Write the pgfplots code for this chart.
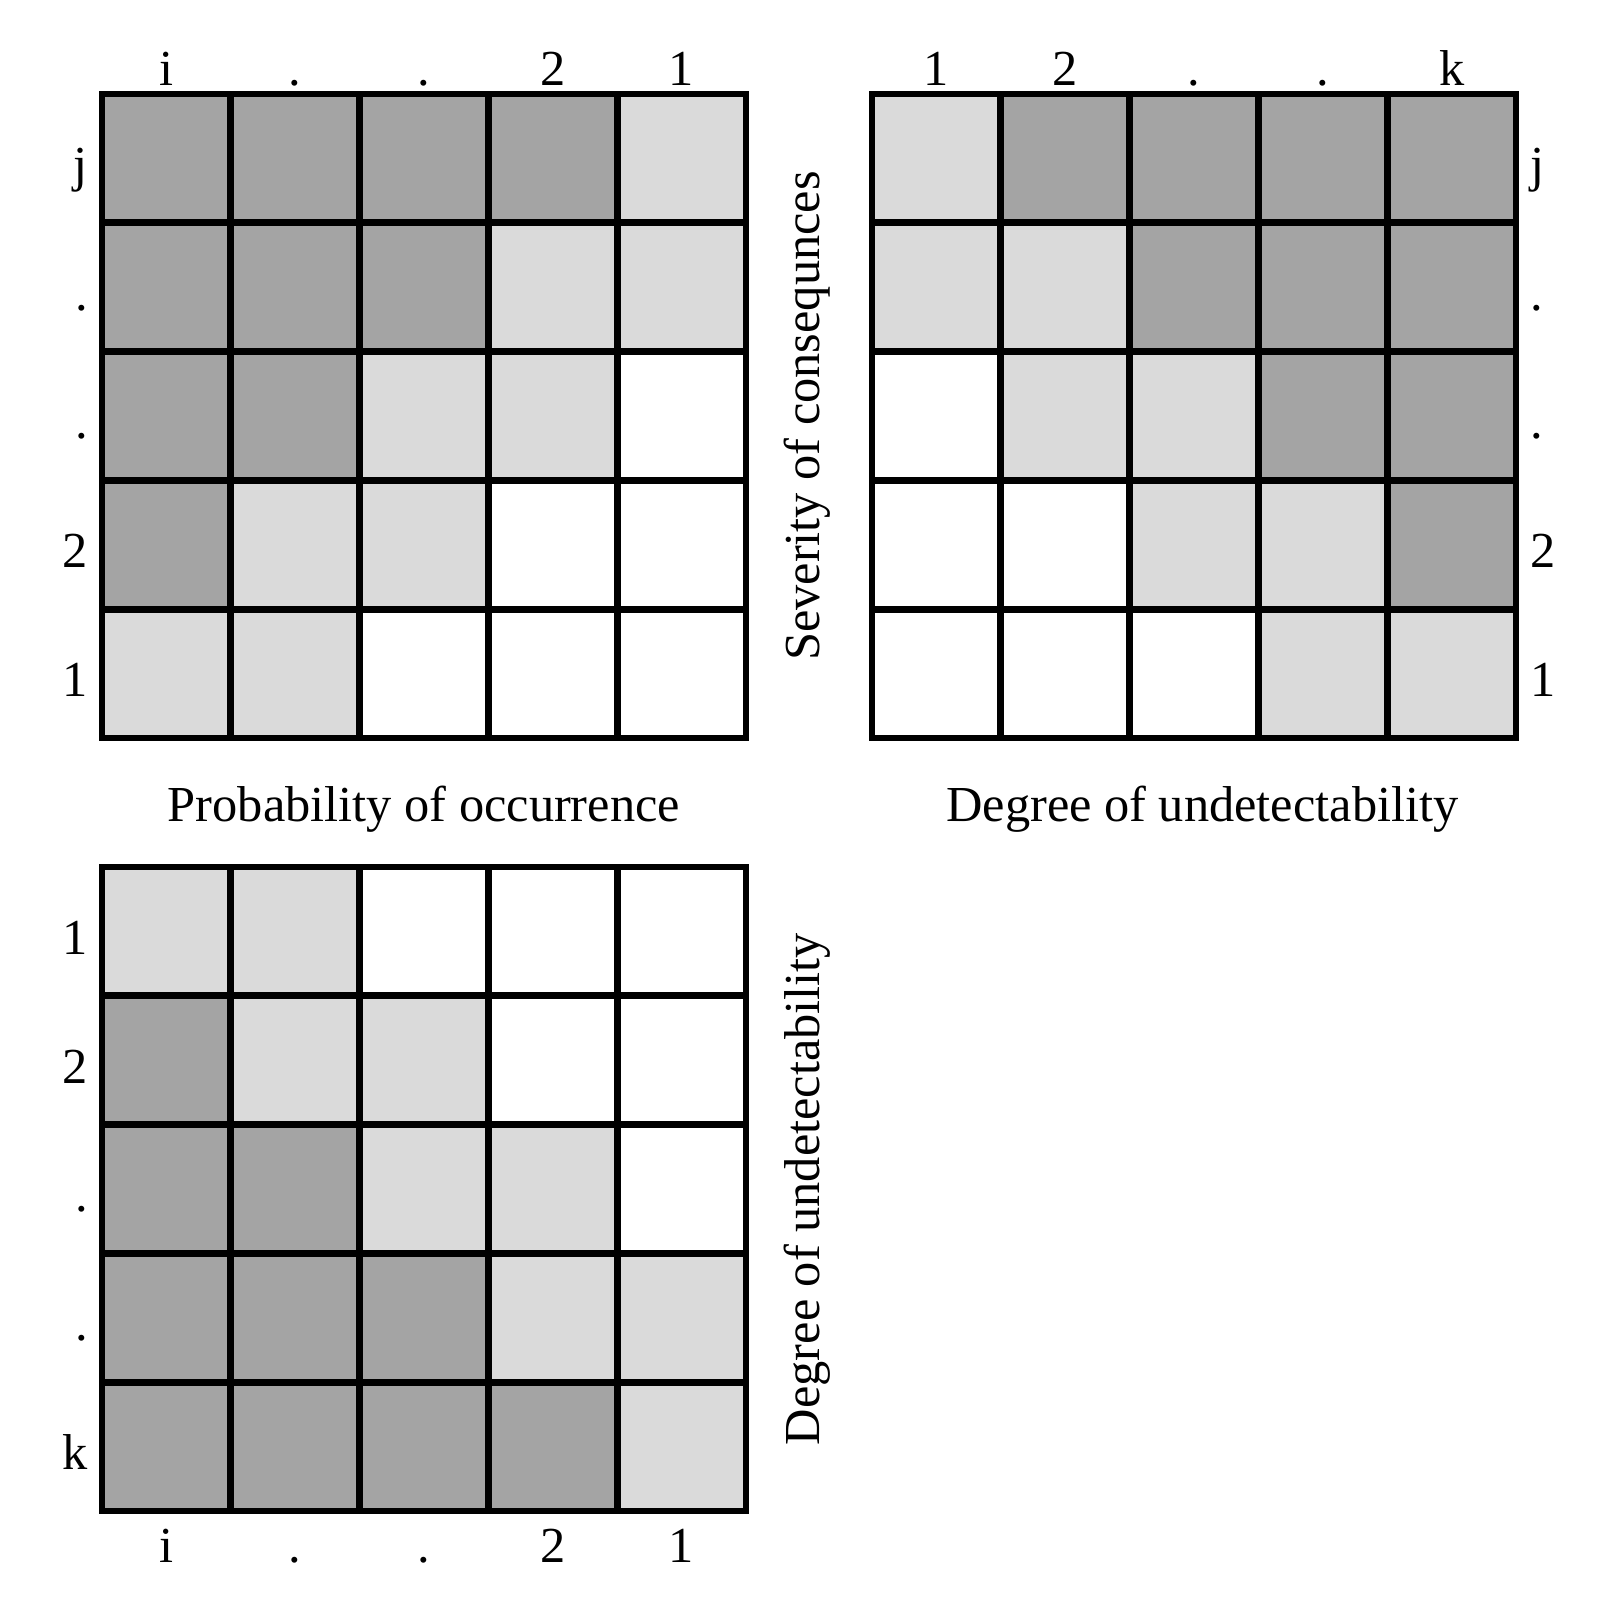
\documentclass[border=0pt]{standalone}
\usepackage{fontspec}
\setmainfont{Liberation Serif}
\usepackage{pgfplots}
\usepackage{pgfplotstable}
\pgfplotsset{compat=1.18}
\definecolor{cellDark}{HTML}{A4A4A4}
\definecolor{cellLight}{HTML}{DADADA}

% 0 = white, 1 = light grey, 2 = dark grey; rows from the bottom (y=1) up
\pgfplotstableread{
x y c
1 1 1
2 1 1
3 1 0
4 1 0
5 1 0
1 2 2
2 2 1
3 2 1
4 2 0
5 2 0
1 3 2
2 3 2
3 3 1
4 3 1
5 3 0
1 4 2
2 4 2
3 4 2
4 4 1
5 4 1
1 5 2
2 5 2
3 5 2
4 5 2
5 5 1
}\occsev

\pgfplotstableread{
x y c
1 1 0
2 1 0
3 1 0
4 1 1
5 1 1
1 2 0
2 2 0
3 2 1
4 2 1
5 2 2
1 3 0
2 3 1
3 3 1
4 3 2
5 3 2
1 4 1
2 4 1
3 4 2
4 4 2
5 4 2
1 5 1
2 5 2
3 5 2
4 5 2
5 5 2
}\detsev

\pgfplotstableread{
x y c
1 1 2
2 1 2
3 1 2
4 1 2
5 1 1
1 2 2
2 2 2
3 2 2
4 2 1
5 2 1
1 3 2
2 3 2
3 3 1
4 3 1
5 3 0
1 4 2
2 4 1
3 4 1
4 4 0
5 4 0
1 5 1
2 5 1
3 5 0
4 5 0
5 5 0
}\occdet

\pgfplotsset{
  riskgrid/.style={
    scale only axis, width=161pt, height=161pt,
    anchor=south west,
    xmin=0.5, xmax=5.5, ymin=0.5, ymax=5.5,
    xtick={1,...,5}, ytick={1,...,5},
    minor xtick={1.5,2.5,3.5,4.5}, minor ytick={1.5,2.5,3.5,4.5},
    xminorgrids=true, yminorgrids=true,
    minor grid style={black, line width=1.7pt},
    tick style={draw=none},
    major tick length=0pt, minor tick length=0pt,
    axis line style={line width=1.7pt},
    axis on top,
    colormap={risk}{color(0)=(white) color(1)=(cellLight) color(2)=(cellDark)},
    point meta min=0, point meta max=2,
    typeset ticklabels with strut,
    ticklabel style={font=\fontsize{12.6}{15}\selectfont},
    yticklabel style={yshift=-2.7pt},
    label style={font=\fontsize{12.6}{15}\selectfont},
  },
}

\begin{document}
\begin{tikzpicture}
\useasboundingbox (0,0) rectangle (403pt,402pt);

% top left: probability vs severity
\begin{axis}[riskgrid, at={(25.5pt,217.5pt)},
  xticklabel pos=upper,
  xticklabel style={yshift=-5.8pt},
  xticklabels={i,.,.,2,1},
  yticklabels={1,2,.,.,j},
  xlabel={Probability of occurrence},
  xlabel style={at={(axis description cs:0.5,-0.110)}, anchor=center},
  ylabel={Severity of consequnces},
  ylabel style={at={(axis description cs:1.095,0.5)}, anchor=center, rotate=0},
]
\addplot[matrix plot*, mesh/cols=5, point meta=explicit] table[x=x, y=y, meta=c] {\occsev};
\end{axis}

% top right: undetectability vs severity
\begin{axis}[riskgrid, at={(218pt,217.5pt)},
  xticklabel pos=upper, yticklabel pos=right,
  xticklabel style={yshift=-5.8pt},
  xticklabels={1,2,.,.,k},
  yticklabels={1,2,.,.,j},
  xlabel={Degree of undetectability},
  xlabel style={at={(axis description cs:0.513,-0.110)}, anchor=center},
]
\addplot[matrix plot*, mesh/cols=5, point meta=explicit] table[x=x, y=y, meta=c] {\detsev};
\end{axis}

% bottom: probability vs undetectability
\begin{axis}[riskgrid, at={(25.5pt,24.25pt)},
  xticklabel style={yshift=1.2pt},
  xticklabels={i,.,.,2,1},
  yticklabels={k,.,.,2,1},
  ylabel={Degree of undetectability},
  ylabel style={at={(axis description cs:1.095,0.5)}, anchor=center, rotate=0},
]
\addplot[matrix plot*, mesh/cols=5, point meta=explicit] table[x=x, y=y, meta=c] {\occdet};
\end{axis}
\end{tikzpicture}
\end{document}
